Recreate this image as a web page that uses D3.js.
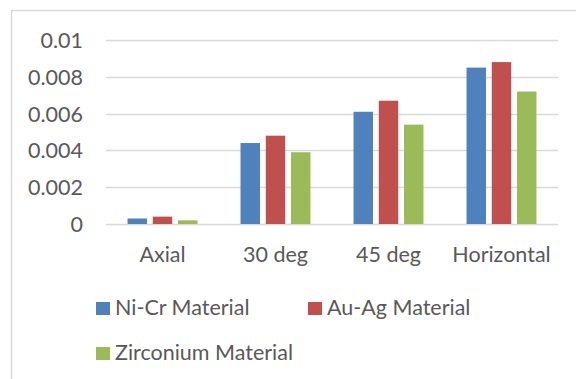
<!DOCTYPE html>
<html>
<head>
<meta charset="utf-8">
<script src="https://cdn.jsdelivr.net/npm/d3@7/dist/d3.min.js"></script>
<style>
  html, body { margin: 0; padding: 0; background: #fff; }
  svg { display: block; }
  text { font-family: Lato, "Open Sans", sans-serif; fill: #595959; }
</style>
</head>
<body>
<script>
// Categories, series and values
const categories = ["Axial", "30 deg", "45 deg", "Horizontal"];
const seriesNames = ["Ni-Cr Material", "Au-Ag Material", "Zirconium Material"];
const niCr = [0.0003, 0.0044, 0.0061, 0.0085];
const auAg = [0.0004, 0.0048, 0.0067, 0.0088];
const zirconium = [0.0002, 0.0039, 0.0054, 0.0072];
const yTicks = [0, 0.002, 0.004, 0.006, 0.008, 0.01];
const yTickLabels = ["0", "0.002", "0.004", "0.006", "0.008", "0.01"];
const colors = ["#4F81BD", "#C0504D", "#9BBB59"];

const seriesValues = [niCr, auAg, zirconium];
const W = 576, H = 379;
const fontSize = "21.5px";

const svg = d3.select("body").append("svg")
  .attr("width", W).attr("height", H);

// Chart area frame (right and bottom edges fall outside the view)
svg.append("rect")
  .attr("x", 11.5).attr("y", 10.5)
  .attr("width", W + 10).attr("height", H + 10)
  .attr("fill", "#fff").attr("stroke", "#D9D9D9").attr("stroke-width", 1.5);

const plot = { left: 106, right: 558, top: 40, bottom: 224 };

const y = d3.scaleLinear().domain([0, 0.01]).range([plot.bottom, plot.top]);
const x0 = d3.scaleBand().domain(categories)
  .range([plot.left, plot.right]).paddingInner(0.381).paddingOuter(0.1905);
const x1 = d3.scaleBand().domain(seriesNames)
  .range([0, x0.bandwidth()]).paddingInner(0.23).paddingOuter(0);

// Gridlines
svg.append("g").selectAll("line").data(yTicks).join("line")
  .attr("x1", plot.left).attr("x2", plot.right)
  .attr("y1", d => Math.round(y(d)) + 0.5).attr("y2", d => Math.round(y(d)) + 0.5)
  .attr("stroke", "#D9D9D9").attr("stroke-width", 1.5);

// Y axis labels
const yAxis = d3.axisLeft(y).tickValues(yTicks)
  .tickFormat((d, i) => yTickLabels[i]).tickSize(0).tickPadding(0);
const yg = svg.append("g").attr("transform", `translate(${83},0)`).call(yAxis);
yg.select(".domain").remove();
yg.selectAll("text").style("font-size", fontSize).style("font-family", "Lato, sans-serif")
  .attr("fill", "#595959").attr("dy", "0.35em");

// Bars
const groups = svg.append("g").selectAll("g").data(categories).join("g")
  .attr("transform", d => `translate(${x0(d)},0)`);
groups.selectAll("rect")
  .data((c, ci) => seriesNames.map((s, si) => ({ s, si, v: seriesValues[si][ci] })))
  .join("rect")
  .attr("x", d => x1(d.s))
  .attr("width", x1.bandwidth())
  .attr("y", d => y(d.v))
  .attr("height", d => y(0) - y(d.v))
  .attr("fill", d => colors[d.si]);

// Category labels
const xAxis = d3.axisBottom(x0).tickSize(0).tickPadding(0);
const xg = svg.append("g").attr("transform", `translate(0,${plot.bottom})`).call(xAxis);
xg.select(".domain").remove();
xg.selectAll("text").style("font-size", fontSize).style("font-family", "Lato, sans-serif")
  .attr("fill", "#595959").attr("y", 38).attr("dy", 0);

// Legend
const legendPos = [[96, 315], [308, 315], [96, 360]];
const legend = svg.append("g").selectAll("g").data(seriesNames).join("g")
  .attr("transform", (d, i) => `translate(${legendPos[i][0]},${legendPos[i][1]})`);
legend.append("rect").attr("x", 0).attr("y", -13).attr("width", 14).attr("height", 13)
  .attr("fill", (d, i) => colors[i]);
legend.append("text").attr("x", 19).attr("y", 0)
  .style("font-size", fontSize).text(d => d);
</script>
</body>
</html>
